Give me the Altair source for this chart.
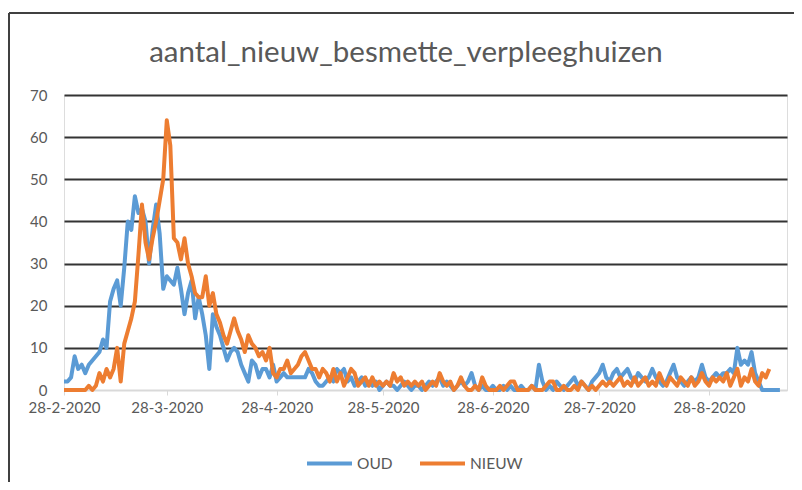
import altair as alt
import pandas as pd

TITLE = "aantal_nieuw_besmette_verpleeghuizen"
START_DATE = "2020-02-28"
SERIES = ["OUD", "NIEUW"]
COLORS = ["#5B9BD5", "#ED7D31"]
Y_TICKS = [0, 10, 20, 30, 40, 50, 60, 70]
X_TICK_MONTHS = [2, 3, 4, 5, 6, 7, 8]  # 28th of each month, 2020

OUD = [
    2, 2, 3, 8, 5, 6, 4, 6, 7, 8,
    9, 12, 10, 21, 24, 26, 20, 29, 40, 38,
    46, 42, 43, 40, 30, 38, 44, 37, 24, 27,
    26, 25, 29, 24, 18, 23, 26, 17, 22, 18,
    13, 5, 18, 15, 13, 10, 7, 9, 10, 9,
    6, 4, 2, 7, 6, 3, 5, 5, 3, 6,
    2, 3, 4, 3, 3, 3, 3, 3, 3, 5,
    4, 2, 1, 1, 2, 3, 2, 5, 4, 5,
    2, 3, 1, 2, 3, 1, 2, 1, 2, 0,
    1, 2, 1, 1, 0, 1, 2, 1, 0, 1,
    1, 0, 1, 2, 1, 2, 3, 1, 2, 1,
    0, 1, 2, 1, 2, 4, 1, 0, 1, 0,
    0, 1, 0, 0, 1, 0, 1, 0, 0, 1,
    0, 0, 1, 0, 6, 2, 0, 1, 0, 2,
    1, 0, 1, 2, 3, 1, 2, 1, 0, 2,
    3, 4, 6, 3, 2, 4, 5, 3, 4, 5,
    3, 2, 4, 3, 2, 3, 5, 3, 2, 1,
    2, 4, 6, 3, 2, 1, 2, 3, 2, 3,
    6, 3, 2, 3, 4, 3, 4, 4, 5, 4,
    10, 6, 7, 6, 9, 4, 2, 0, 0, 0,
    0, 0, 0,
]

NIEUW = [
    0, 0, 0, 0, 0, 0, 0, 1, 0, 1,
    4, 2, 5, 3, 5, 10, 2, 11, 14, 17,
    21, 32, 44, 35, 31, 36, 40, 45, 50, 64,
    58, 36, 35, 31, 36, 30, 27, 23, 22, 22,
    27, 20, 23, 18, 16, 13, 11, 14, 17, 14,
    12, 9, 13, 11, 10, 8, 9, 7, 10, 4,
    3, 5, 5, 7, 4, 5, 6, 8, 9, 7,
    5, 5, 3, 5, 4, 2, 5, 2, 4, 1,
    3, 5, 4, 1, 2, 3, 1, 3, 1, 2,
    1, 2, 1, 4, 2, 3, 1, 2, 1, 2,
    1, 2, 0, 1, 2, 1, 4, 2, 1, 2,
    0, 1, 3, 1, 0, 0, 1, 0, 3, 1,
    0, 0, 0, 1, 0, 1, 2, 2, 0, 0,
    0, 0, 1, 0, 0, 0, 1, 2, 2, 0,
    0, 1, 0, 0, 1, 0, 2, 1, 0, 1,
    0, 1, 2, 1, 2, 1, 2, 3, 1, 2,
    1, 3, 1, 2, 3, 1, 2, 1, 4, 2,
    1, 3, 2, 1, 3, 2, 1, 3, 1, 2,
    4, 2, 1, 3, 2, 3, 2, 4, 1, 3,
    5, 1, 3, 2, 5, 2, 1, 4, 3, 5,
]

frames = []
for name, vals in zip(SERIES, [OUD, NIEUW]):
    frames.append(pd.DataFrame({
        "datum": pd.date_range(START_DATE, periods=len(vals), freq="D").strftime("%Y-%m-%d"),
        "waarde": vals,
        "reeks": name,
    }))
df = pd.concat(frames, ignore_index=True)

FONT = "Lato"
TXT = "#595959"

x_ticks = [alt.DateTime(year=2020, month=m, date=28) for m in X_TICK_MONTHS]

lines = alt.Chart(df).mark_line(strokeWidth=4, strokeJoin="round").encode(
    x=alt.X(
        "datum:T",
        scale=alt.Scale(domain=[alt.DateTime(year=2020, month=2, date=28),
                                alt.DateTime(year=2020, month=9, date=19)]),
        axis=alt.Axis(
            values=x_ticks, format="%-d-%-m-%Y", title=None, grid=False,
            domainColor="#d9d9d9", domainWidth=1.2, tickColor="#d9d9d9",
            tickSize=5, labelFont=FONT, labelFontSize=15, labelColor=TXT,
            labelPadding=5, labelFlush=False, labelOverlap=False,
        ),
    ),
    y=alt.Y(
        "waarde:Q",
        scale=alt.Scale(domain=[0, 70], nice=False),
        axis=alt.Axis(
            values=Y_TICKS, title=None, domain=False, ticks=False,
            grid=True,
            gridColor={"condition": {"test": "datum.value === 0", "value": "#d9d9d9"},
                       "value": "#333333"},
            gridWidth=2,
            labelFont=FONT, labelFontSize=15, labelColor=TXT, labelPadding=17,
        ),
    ),
    color=alt.Color(
        "reeks:N",
        scale=alt.Scale(domain=SERIES, range=COLORS),
        sort=SERIES,
        legend=alt.Legend(
            title=None, orient="none", direction="horizontal",
            legendX=241, legendY=344,
            symbolType="stroke", symbolSize=2025, symbolStrokeWidth=4,
            labelFont=FONT, labelFontSize=15.5, labelColor=TXT,
            labelOffset=3, columnPadding=19,
        ),
    ),
    order=alt.Order("datum:T"),
)

one_row = pd.DataFrame({"titel": [TITLE]})
title_text = alt.Chart(one_row).mark_text(
    font=FONT, fontSize=29.5, color=TXT, align="center", baseline="alphabetic"
).encode(text="titel:N", x=alt.value(342), y=alt.value(-33))

left_border = alt.Chart(one_row).mark_rule(color="#404040", strokeWidth=2).encode(
    x=alt.value(-55), y=alt.value(-82), y2=alt.value(400)
)
top_border = alt.Chart(one_row).mark_rule(color="#404040", strokeWidth=2).encode(
    x=alt.value(-55), x2=alt.value(730), y=alt.value(-82)
)

chart = alt.layer(lines, title_text, left_border, top_border).properties(
    width=723,
    height=295,
    autosize=alt.AutoSizeParams(type="none"),
    padding={"left": 56, "top": 87, "right": 7, "bottom": 92},
).configure_view(stroke=None).configure(background="white")

chart.save("out.html", embed_options={"renderer": "svg", "actions": False})
